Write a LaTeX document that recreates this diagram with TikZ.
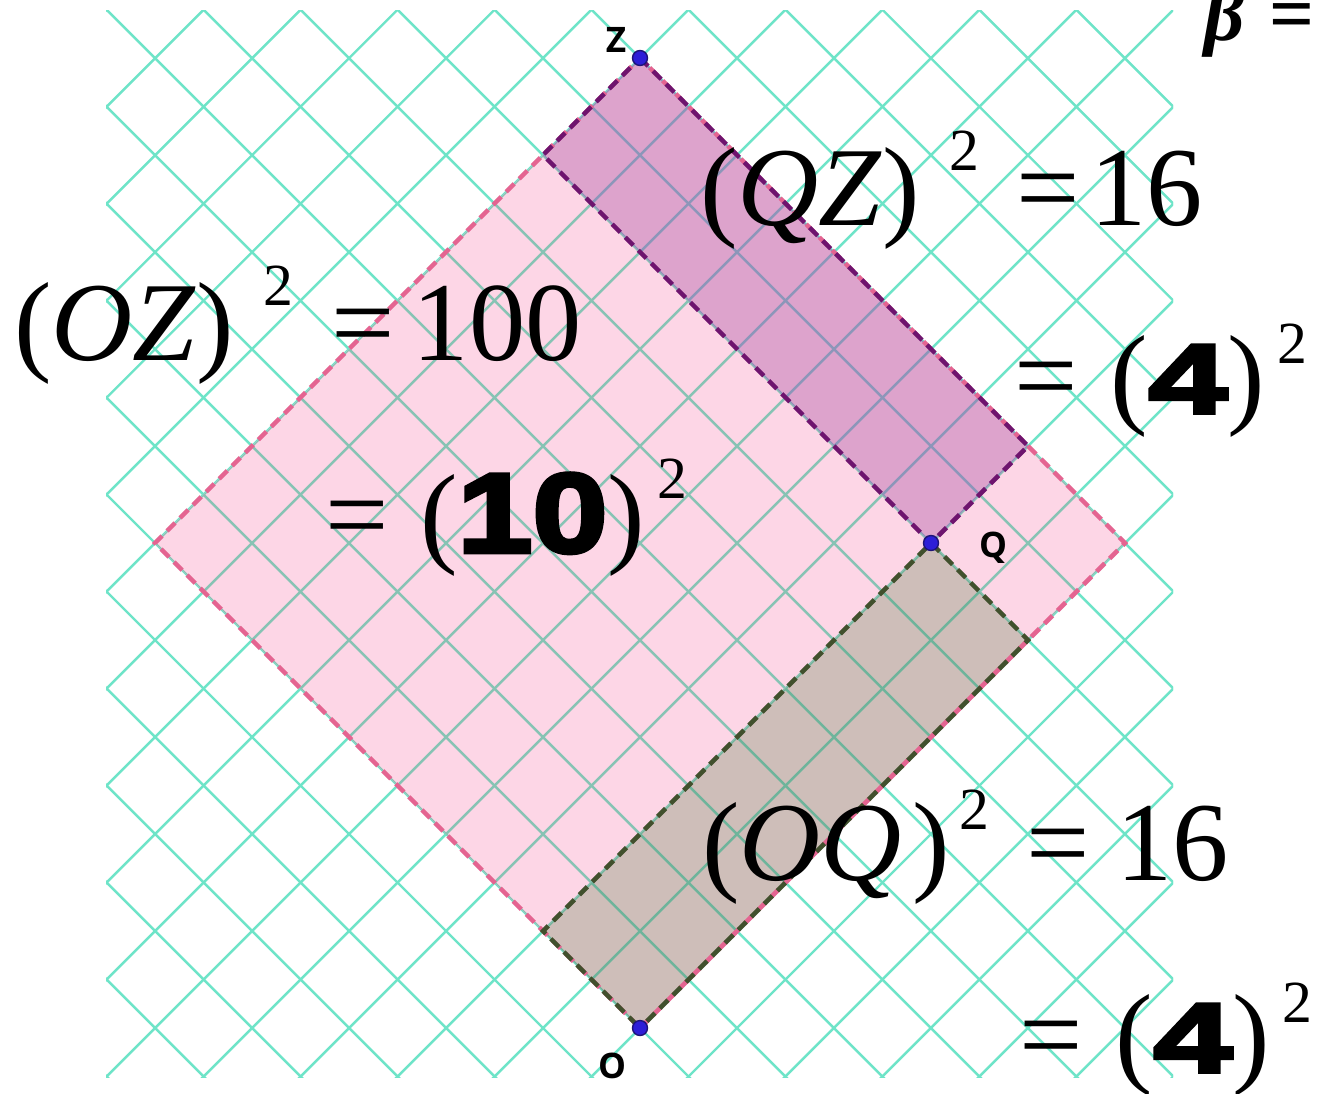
\documentclass[tikz,border=0pt]{standalone}
\usepackage{fontspec}
\setmainfont{Liberation Serif}
\newfontfamily\heavyA{Liberation Sans}[BoldFeatures={FakeBold=4,FakeStretch=1.2}]
\newfontfamily\heavyB{Liberation Sans}[BoldFeatures={FakeBold=4,FakeStretch=1.45}]
\newfontfamily\lblfont{Open Sans}
\newcommand\sups{\fontsize{34}{34}\selectfont}
\newcommand\numA[2]{{\heavyA\bfseries\fontsize{#1}{#1}\selectfont #2}}
\newcommand\numB[2]{{\heavyB\bfseries\fontsize{#1}{#1}\selectfont #2}}
\definecolor{gridc}{RGB}{110,228,200}
\definecolor{gridpink}{RGB}{135,195,180}
\definecolor{gridpurple}{RGB}{140,150,185}
\definecolor{gridbrown}{RGB}{110,180,155}
\definecolor{pinkfill}{RGB}{253,214,230}
\definecolor{purplefill}{RGB}{221,163,204}
\definecolor{brownfill}{RGB}{206,190,185}
\definecolor{pinkedge}{RGB}{228,100,145}
\definecolor{purpleedge}{RGB}{110,20,110}
\definecolor{brownedge}{RGB}{65,80,45}
\definecolor{ptfill}{RGB}{45,30,215}
\definecolor{ptedge}{RGB}{30,20,120}
\newcommand\latgrid[1]{%
  \begin{scope}[shift={(640,1028)},x={(0.97cm,0.97cm)},y={(-0.97cm,0.97cm)}]
    \foreach \k in {-6,...,16}{%
      \draw[#1] (\k,-6) -- (\k,16);
      \draw[#1] (-6,\k) -- (16,\k);
    }
  \end{scope}}
\tikzset{
  gline/.style={line width=1.4pt},
  edgeline/.style={line width=2.6pt, dash pattern=on 6.5pt off 4pt},
  pt/.style={circle, fill=ptfill, draw=ptedge, line width=0.8pt, minimum size=0.3cm, inner sep=0pt},
  lbl/.style={inner sep=0pt, font=\lblfont\bfseries\fontsize{20}{20}\selectfont},
  eq/.style={anchor=base west, inner sep=0pt, outer sep=0pt, font=\fontsize{64}{64}\selectfont},
}
\begin{document}
\begin{tikzpicture}[x=0.02cm,y=-0.02cm]
\useasboundingbox (0,0) rectangle (1319,1093);
\clip (0,0) rectangle (1319,1093);
\fill[white] (0,0) rectangle (1319,1093);
% lattice points
\coordinate (O) at (640,1028);
\coordinate (R) at (1125,543);
\coordinate (Z) at (640,58);
\coordinate (L) at (155,543);
\coordinate (Q) at (931,543);
\coordinate (P1) at (1028,446);
\coordinate (P2) at (543,155);
\coordinate (B1) at (1028,640);
\coordinate (B2) at (543,931);
% grid
\begin{scope}
  \clip (106,10) rectangle (1173,1077);
  \latgrid{gline, gridc}
\end{scope}
% pink square
\fill[pinkfill] (O) -- (R) -- (Z) -- (L) -- cycle;
\begin{scope}
  \clip (O) -- (R) -- (Z) -- (L) -- cycle;
  \latgrid{gline, gridpink}
\end{scope}
% purple strip
\fill[purplefill] (Z) -- (P1) -- (Q) -- (P2) -- cycle;
\begin{scope}
  \clip (Z) -- (P1) -- (Q) -- (P2) -- cycle;
  \latgrid{gline, gridpurple}
\end{scope}
% brown strip
\fill[brownfill] (O) -- (B1) -- (Q) -- (B2) -- cycle;
\begin{scope}
  \clip (O) -- (B1) -- (Q) -- (B2) -- cycle;
  \latgrid{gline, gridbrown}
\end{scope}
% edges
\draw[edgeline, pinkedge] (O) -- (R) -- (Z) -- (L) -- cycle;
\draw[edgeline, purpleedge] (Z) -- (P1) -- (Q) -- (P2) -- cycle;
\draw[edgeline, brownedge, dash phase=5pt] (O) -- (B1) -- (Q) -- (B2) -- cycle;
% points
\node[pt] (Zpt) at (Z) {};
\node[pt] (Qpt) at (Q) {};
\node[pt] (Opt) at (O) {};
% labels
\node[lbl] (Zlab) at (616,40) {Z};
\node[lbl] (Qlab) at (993,548) {Q};
\node[lbl] (Olab) at (612,1066) {O};
% equations
\node[eq] (eqQZ) at (700,225) {(\textit{QZ})\kern17pt\raisebox{31pt}{\sups 2}\kern21pt=\kern6pt16};
\node[eq] (eqQZb) at (1014,413) {=\kern19pt(\numB{56}{4})\kern7pt\raisebox{28pt}{\sups 2}};
\node[eq] (eqOZ) at (14,360) {(\textit{OZ})\kern17pt\raisebox{31pt}{\sups 2}\kern22pt=\kern10pt100};
\node[eq] (eqOZb) at (325,552) {=\kern18pt(\numA{64}{10})\kern7pt\raisebox{30.5pt}{\sups 2}};
\node[eq] (eqOQ) at (702,880) {(\textit{OQ}\kern6pt)\kern5.5pt\raisebox{29pt}{\sups 2}\kern21pt=\kern15pt16};
\node[eq] (eqOQb) at (1019,1072) {=\kern19pt(\numB{56}{4})\kern7pt\raisebox{28pt}{\sups 2}};
\node[anchor=base west, inner sep=0pt, font=\fontsize{45}{45}\selectfont\bfseries] (beta) at (1204,40) {\textit{β}\kern14pt=};
\end{tikzpicture}
\end{document}
